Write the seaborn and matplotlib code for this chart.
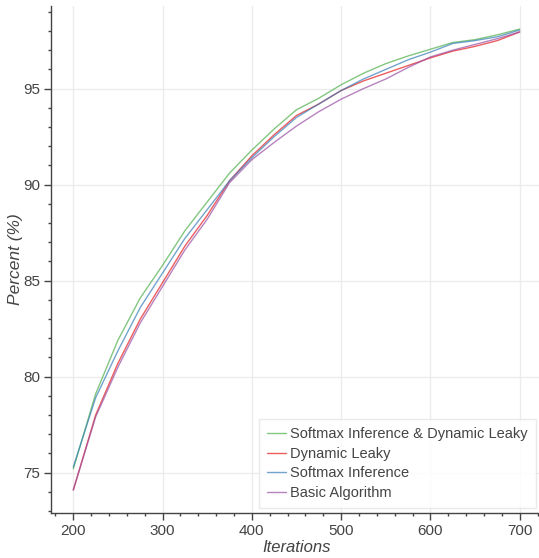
import pandas as pd
import numpy as np
import seaborn as sns
import matplotlib.pyplot as plt
from matplotlib.ticker import MultipleLocator

# values
iterations = [200, 225, 250, 275, 300, 325, 350, 375, 400, 425, 450,
              475, 500, 525, 550, 575, 600, 625, 650, 675, 700]
softmax_dynamic = [75.2, 79.1, 81.9, 84.1, 85.8, 87.6, 89.1, 90.6, 91.8, 92.9, 93.9,
                   94.5, 95.2, 95.8, 96.3, 96.7, 97.05, 97.4, 97.55, 97.8, 98.1]
dynamic_leaky = [74.1, 78.0, 80.7, 83.0, 84.9, 86.8, 88.4, 90.2, 91.5, 92.6, 93.6,
                 94.2, 94.9, 95.4, 95.8, 96.2, 96.6, 96.95, 97.2, 97.5, 97.95]
softmax_inf = [75.3, 78.9, 81.35, 83.6, 85.4, 87.2, 88.7, 90.2, 91.4, 92.5, 93.5,
               94.2, 94.9, 95.5, 96.0, 96.5, 96.9, 97.35, 97.5, 97.7, 98.05]
basic_algo = [74.1, 77.9, 80.5, 82.8, 84.7, 86.6, 88.2, 90.1, 91.3, 92.2, 93.05,
              93.8, 94.45, 95.0, 95.5, 96.1, 96.65, 97.0, 97.3, 97.6, 97.95]

names = ['Softmax Inference & Dynamic Leaky', 'Dynamic Leaky',
         'Softmax Inference', 'Basic Algorithm']
colors = ['#4daf4a', '#e41a1c', '#377eb8', '#984ea3']

df = pd.concat([
    pd.DataFrame({'Iterations': iterations, 'Percent': vals, 'method': name})
    for name, vals in zip(names, [softmax_dynamic, dynamic_leaky, softmax_inf, basic_algo])
])

sns.set_style('whitegrid', {'grid.color': '#ececec'})
plt.rcParams['font.family'] = ['Liberation Sans', 'DejaVu Sans']

fig = plt.figure(figsize=(5.39, 5.58), dpi=100)
ax = fig.add_axes([0.0946, 0.0806, 0.911, 0.9086])

sns.lineplot(data=df, x='Iterations', y='Percent', hue='method',
             palette=colors, linewidth=1.0, alpha=0.7, ax=ax)

ax.set_xlim(175, 725)
ax.set_ylim(72.9, 99.3)
ax.xaxis.set_major_locator(MultipleLocator(100))
ax.xaxis.set_minor_locator(MultipleLocator(20))
ax.yaxis.set_major_locator(MultipleLocator(5))
ax.yaxis.set_minor_locator(MultipleLocator(1))
ax.tick_params(axis='both', which='major', direction='out', length=5, width=1, pad=3,
               color='#444444', labelsize=11, labelcolor='#444444', bottom=True, left=True)
ax.tick_params(axis='both', which='minor', direction='out', length=2.5, width=1,
               color='#444444', bottom=True, left=True)
ax.grid(True, which='major', linewidth=1)

for side in ['top', 'right']:
    ax.spines[side].set_visible(False)
for side in ['left', 'bottom']:
    ax.spines[side].set_color('#444444')
    ax.spines[side].set_linewidth(1)

ax.set_xlabel('Iterations', fontsize=12, style='italic', color='#444444', labelpad=1)
ax.set_ylabel('Percent (%)', fontsize=12.5, style='italic', color='#444444')
ax.yaxis.set_label_coords(-0.056, 0.5)

leg = ax.legend(loc='lower right', bbox_to_anchor=(0.988, 0.01), borderaxespad=0,
                fontsize=10.5, handlelength=1.3, handletextpad=0.3, labelspacing=0.38,
                frameon=True, fancybox=False, borderpad=0.55)
leg.get_frame().set_edgecolor('#e5e5e5')
leg.get_frame().set_linewidth(1)
for t in leg.get_texts():
    t.set_color('#444444')

fig.savefig('out.png', dpi=100)
